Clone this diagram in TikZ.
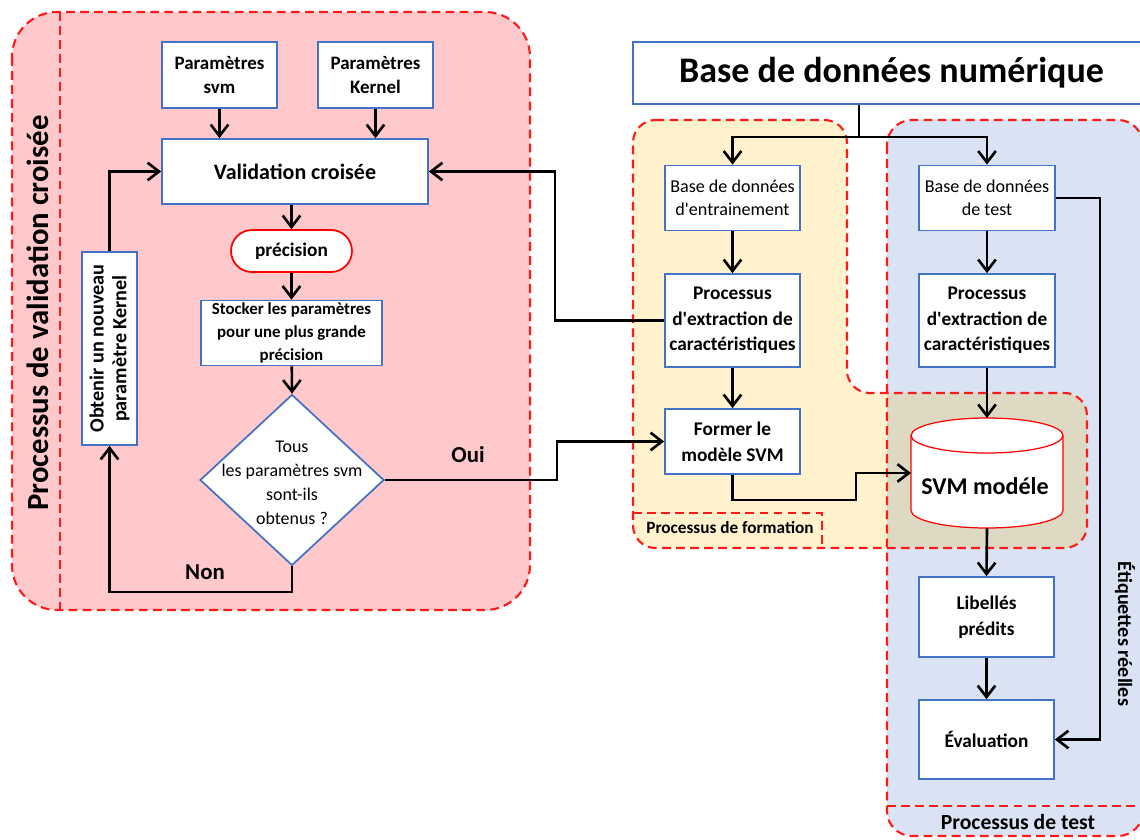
\documentclass[tikz,border=0pt]{standalone}
\usepackage{fontspec}
\setmainfont{Carlito}
\usetikzlibrary{arrows.meta,shapes.geometric}
\definecolor{boxblue}{HTML}{4472C4}
\definecolor{dashred}{HTML}{FF1A1A}
\definecolor{valpink}{HTML}{FFC9CB}
\definecolor{trainyellow}{HTML}{FFF2CC}
\definecolor{testblue}{HTML}{DAE3F3}
\definecolor{overlapfill}{HTML}{DDD9C3}

\begin{document}
\begin{tikzpicture}[x=0.02cm,y=-0.02cm,
  box/.style={draw=boxblue,fill=white,line width=1pt,inner sep=0pt,align=center},
  arr/.style={line width=1.5pt,-{Straight Barb[length=6.5pt,width=10pt,line width=1.5pt]}},
  link/.style={line width=1.5pt},
  region/.style={draw=dashred,line width=1.2pt,dash pattern=on 5pt off 3pt},
]
\useasboundingbox (0,0) rectangle (1140,839);

% ---------- background regions ----------
% cross-validation region
\draw[region,fill=valpink,rounded corners=0.9cm] (12,12) rectangle (530,610);
\draw[region] (60,12) -- (60,610);

% test region
\fill[testblue,rounded corners=0.5cm] (887,120) rectangle (1143,836);
% training region (L-shaped)
\fill[trainyellow,rounded corners=0.45cm]
  (633,120) -- (847,120) -- (847,393) -- (1087,393) -- (1087,548) -- (633,548) -- cycle;
% shared part of training and test regions
\begin{scope}
  \clip (887,120) rectangle (1143,836);
  \fill[overlapfill,rounded corners=0.45cm]
    (633,120) -- (847,120) -- (847,393) -- (1087,393) -- (1087,548) -- (633,548) -- cycle;
\end{scope}
\draw[region,rounded corners=0.45cm]
  (633,120) -- (847,120) -- (847,393) -- (1087,393) -- (1087,548) -- (633,548) -- cycle;
\draw[region,rounded corners=0.5cm] (887,120) rectangle (1143,836);
\draw[region] (887,806) -- (1143,806);
\draw[region] (633,513) -- (822,513) -- (822,548);

% ---------- region titles ----------
\node[rotate=90,font=\bfseries\fontsize{17.5}{20}\selectfont] (valtitle) at (38,313) {Processus de validation croisée};
\node[font=\bfseries\fontsize{9.8}{12}\selectfont] (formtitle) at (730,528) {Processus de formation};
\node[font=\bfseries\fontsize{12.3}{14}\selectfont] (testtitle) at (1018,822) {Processus de test};

% ---------- cross-validation nodes ----------
\node[box,minimum width=2.3cm,minimum height=1.32cm,font=\bfseries\fontsize{10.8}{14.2}\selectfont] (psvm) at (219.5,75) {Paramètres\\svm};
\node[box,minimum width=2.3cm,minimum height=1.32cm,font=\bfseries\fontsize{10.8}{14.2}\selectfont] (pker) at (375.5,75) {Paramètres\\Kernel};
\node[box,minimum width=5.32cm,minimum height=1.3cm,font=\bfseries\fontsize{12.5}{14}\selectfont] (valid) at (295,171.5) {Validation croisée};
\node[draw=red,fill=white,line width=1pt,rounded corners=0.42cm,minimum width=2.42cm,minimum height=0.84cm,inner sep=0pt,font=\bfseries\fontsize{11}{13}\selectfont] (prec) at (291.5,251) {précision};
\node[box,minimum width=3.62cm,minimum height=1.3cm,font=\bfseries\fontsize{9.6}{13.1}\selectfont] (stock) at (291.5,333) {Stocker les paramètres\\pour une plus grande\\précision};
\node[diamond,draw=boxblue,fill=white,line width=1pt,minimum width=3.68cm,minimum height=3.42cm,inner sep=0pt] (dec) at (292,480) {};
\node[align=center,font=\fontsize{10.2}{13.6}\selectfont] (dectext) at (292,483) {Tous\\les paramètres svm\\sont-ils\\obtenus ?};
\node[box,minimum width=1.1cm,minimum height=3.86cm] (obt) at (109.5,348.5) {};
\node[rotate=90,align=center,font=\bfseries\fontsize{11.5}{13}\selectfont] (obttext) at (obt) {Obtenir un nouveau\\paramètre Kernel};

\node[font=\bfseries\fontsize{13}{15}\selectfont] (oui) at (468,455) {Oui};
\node[font=\bfseries\fontsize{13}{15}\selectfont] (non) at (205,572) {Non};

% ---------- database ----------
\node[box,minimum width=10.34cm,minimum height=1.24cm,font=\bfseries\fontsize{20.5}{24}\selectfont] (db) at (891.5,73) {Base de données numérique};

% ---------- training column ----------
\node[box,minimum width=2.7cm,minimum height=1.3cm,font=\fontsize{10.3}{13}\selectfont] (tdb) at (732.5,198) {Base de données\\d\textquotesingle entrainement};
\node[box,minimum width=2.7cm,minimum height=1.86cm,font=\bfseries\fontsize{11}{14.6}\selectfont] (tfe) at (732.5,320.5) {Processus\\d\textquotesingle extraction de\\caractéristiques};
\node[box,minimum width=2.7cm,minimum height=1.3cm,font=\bfseries\fontsize{11}{14.6}\selectfont] (form) at (732.5,441.5) {Former le\\modèle SVM};

% ---------- test column ----------
\node[box,minimum width=2.72cm,minimum height=1.3cm,font=\fontsize{10.3}{13}\selectfont] (sdb) at (987,198) {Base de données\\de test};
\node[box,minimum width=2.72cm,minimum height=1.86cm,font=\bfseries\fontsize{11}{14.6}\selectfont] (sfe) at (987,320.5) {Processus\\d\textquotesingle extraction de\\caractéristiques};

% SVM model store (cylinder)
\filldraw[fill=white,draw=red,line width=0.7pt]
  (911,435.5) -- (911,510.5) arc[start angle=180,end angle=360,x radius=1.52cm,y radius=0.35cm]
  -- (1063,435.5) arc[start angle=0,end angle=180,x radius=1.52cm,y radius=0.35cm] -- cycle;
\draw[red,line width=0.7pt] (911,435.5) arc[start angle=180,end angle=360,x radius=1.52cm,y radius=0.35cm];
\node[font=\bfseries\fontsize{13.7}{16}\selectfont] (svm) at (985,486) {SVM modéle};
\coordinate (cyltop) at (987,418);
\coordinate (cylbot) at (987,528);
\coordinate (cylleft) at (911,473);

\node[box,minimum width=2.7cm,minimum height=1.6cm,font=\bfseries\fontsize{11}{14.6}\selectfont] (lib) at (986.5,617) {Libellés\\prédits};
\node[box,minimum width=2.7cm,minimum height=1.58cm,font=\bfseries\fontsize{11}{14.6}\selectfont] (eval) at (986.5,739.5) {Évaluation};

\node[rotate=-90,font=\bfseries\fontsize{11.5}{14}\selectfont] (etqtext) at (1125,634) {Étiquettes réelles};

% ---------- connectors ----------
\draw[arr] (psvm) -- (psvm |- valid.north);
\draw[arr] (pker) -- (pker |- valid.north);
\draw[arr] (prec.north |- valid.south) -- (prec.north);
\draw[arr] (prec) -- (stock.north);
\draw[arr] (stock) -- (dec.north);

\coordinate (nonturn) at (109.5,592);
\draw[arr] (dec.south) |- (nonturn) -- (obt.south);
\draw[arr] (obt.north) |- (valid.west);

\coordinate (ouiturn) at (557,480);
\draw[arr] (dec.east) -- (ouiturn) |- (form.west);

\coordinate (fbturn) at (555,320.5);
\draw[arr] (tfe.west) -- (fbturn) |- (valid.east);

\coordinate (split) at (859,137);
\draw[link] (db.south -| split) -- (split);
\draw[arr] (split) -| (tdb.north);
\draw[arr] (split) -| (sdb.north);

\draw[arr] (tdb) -- (tfe);
\draw[arr] (tfe) -- (form);
\coordinate (fmturn) at (856,500);
\draw[arr] (form.south) |- (fmturn) |- (cylleft);

\draw[arr] (sdb) -- (sfe);
\draw[arr] (sfe.south) -- (cyltop);
\draw[arr] (cylbot) -- (lib.north);
\draw[arr] (lib) -- (eval);

\coordinate (etq) at (1100,198);
\draw[arr] (sdb.east) -- (etq) |- (eval.east);
\end{tikzpicture}
\end{document}
